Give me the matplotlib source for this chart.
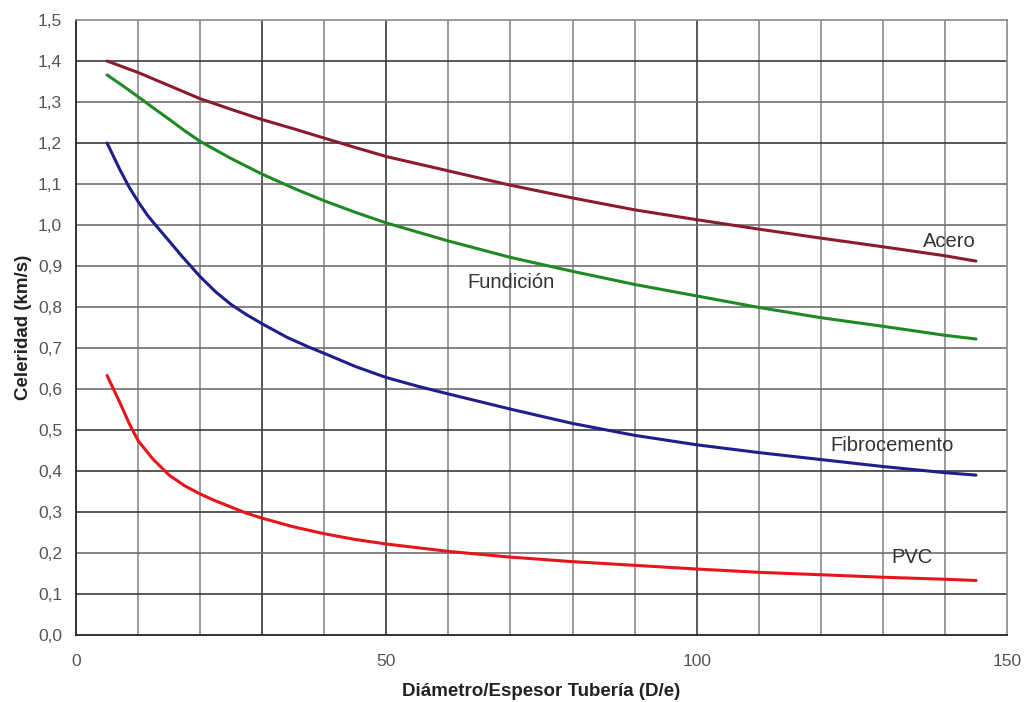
import matplotlib
matplotlib.use("Agg")
import matplotlib.pyplot as plt
from matplotlib.ticker import FuncFormatter, MultipleLocator

plt.rcParams['font.family'] = ['Liberation Sans', 'DejaVu Sans']

# Celeridad de la onda (km/s) en función de la relación D/e
x_acero = [5, 10, 15, 20, 25, 30, 35, 40, 45, 50, 60, 70, 80, 90, 100, 110, 120, 130, 140, 145]
y_acero = [1.40, 1.372, 1.340, 1.308, 1.282, 1.257, 1.235, 1.212, 1.189, 1.167, 1.132, 1.097,
           1.066, 1.037, 1.013, 0.990, 0.968, 0.947, 0.925, 0.912]

x_fund = [5, 7.5, 10, 12.5, 15, 17.5, 20, 25, 30, 35, 40, 45, 50, 60, 70, 80, 90, 100, 110,
          120, 130, 140, 145]
y_fund = [1.366, 1.340, 1.313, 1.285, 1.258, 1.230, 1.204, 1.162, 1.124, 1.090, 1.059, 1.031,
          1.005, 0.961, 0.921, 0.887, 0.855, 0.827, 0.799, 0.774, 0.753, 0.731, 0.722]

x_fibro = [5, 7, 8.5, 10, 11.5, 12.8, 15, 17, 20, 22.5, 25, 27.5, 30, 34, 37.7, 40, 45, 50,
           55, 60, 70, 80, 90, 100, 110, 120, 130, 140, 145]
y_fibro = [1.20, 1.137, 1.094, 1.057, 1.024, 1.000, 0.961, 0.925, 0.874, 0.837, 0.806,
           0.781, 0.759, 0.726, 0.701, 0.687, 0.655, 0.628, 0.607, 0.588, 0.551, 0.516,
           0.487, 0.464, 0.445, 0.428, 0.411, 0.396, 0.390]

x_pvc = [5, 7, 8.6, 10, 12.4, 15, 17.5, 20, 22.5, 25, 27.5, 30, 35, 40, 45, 50, 60, 70, 80,
         90, 100, 110, 120, 130, 140, 145]
y_pvc = [0.633, 0.569, 0.515, 0.474, 0.429, 0.390, 0.364, 0.344, 0.327, 0.312, 0.297,
         0.285, 0.264, 0.247, 0.233, 0.222, 0.204, 0.190, 0.179, 0.170, 0.161, 0.153,
         0.147, 0.141, 0.136, 0.133]

series_names = ['Acero', 'Fundición', 'Fibrocemento', 'PVC']
label_pos = [(136.5, 0.959), (63.1, 0.860), (121.6, 0.463), (131.3, 0.188)]
colors = ['#8a1c2c', '#1f8a24', '#1e1e8c', '#e8141c']

fig = plt.figure(figsize=(10.26, 7.02), dpi=100)
ax = fig.add_axes([0.0741, 0.0954, 0.9074, 0.8761])

ax.set_xlim(0, 150)
ax.set_ylim(0, 1.5)

# Grid
for gx in range(10, 150, 10):
    c = '#3c3c3c' if gx in (30, 50, 100) else '#8a8a8a'
    ax.axvline(gx, color=c, lw=1.2, zorder=1)
for i in range(1, 15):
    gy = i / 10
    c = '#3c3c3c' if i in (1, 3, 4, 5, 12, 14) else '#6e6e6e'
    ax.axhline(gy, color=c, lw=1.2, zorder=1)

data = [(x_acero, y_acero), (x_fund, y_fund), (x_fibro, y_fibro), (x_pvc, y_pvc)]
for (xs, ys), col in zip(data, colors):
    ax.plot(xs, ys, color=col, lw=2.2, zorder=3, solid_capstyle='round',
            solid_joinstyle='round')

for name, (tx, ty) in zip(series_names, label_pos):
    ax.text(tx, ty, name, ha='left', va='center', fontsize=14.5, color='#333333',
            zorder=4)

ax.xaxis.set_major_locator(MultipleLocator(50))
ax.yaxis.set_major_locator(MultipleLocator(0.1))
ax.yaxis.set_major_formatter(FuncFormatter(lambda v, p: f"{v:.1f}".replace('.', ',')))
ax.tick_params(axis='both', length=0, labelsize=12.5, colors='#555555')
ax.tick_params(axis='x', pad=14)
ax.tick_params(axis='y', pad=10)

for s in ('left', 'bottom'):
    ax.spines[s].set_color('#222222')
    ax.spines[s].set_linewidth(1.3)
for s in ('top', 'right'):
    ax.spines[s].set_color('#8a8a8a')
    ax.spines[s].set_linewidth(1.2)

ax.set_xlabel('Diámetro/Espesor Tubería (D/e)', fontsize=13.5, fontweight='bold',
              color='#222222', labelpad=10)
ax.set_ylabel('Celeridad (km/s)', fontsize=13.5, fontweight='bold', color='#222222',
              labelpad=4)

fig.savefig('out.png', dpi=100, facecolor='white')
